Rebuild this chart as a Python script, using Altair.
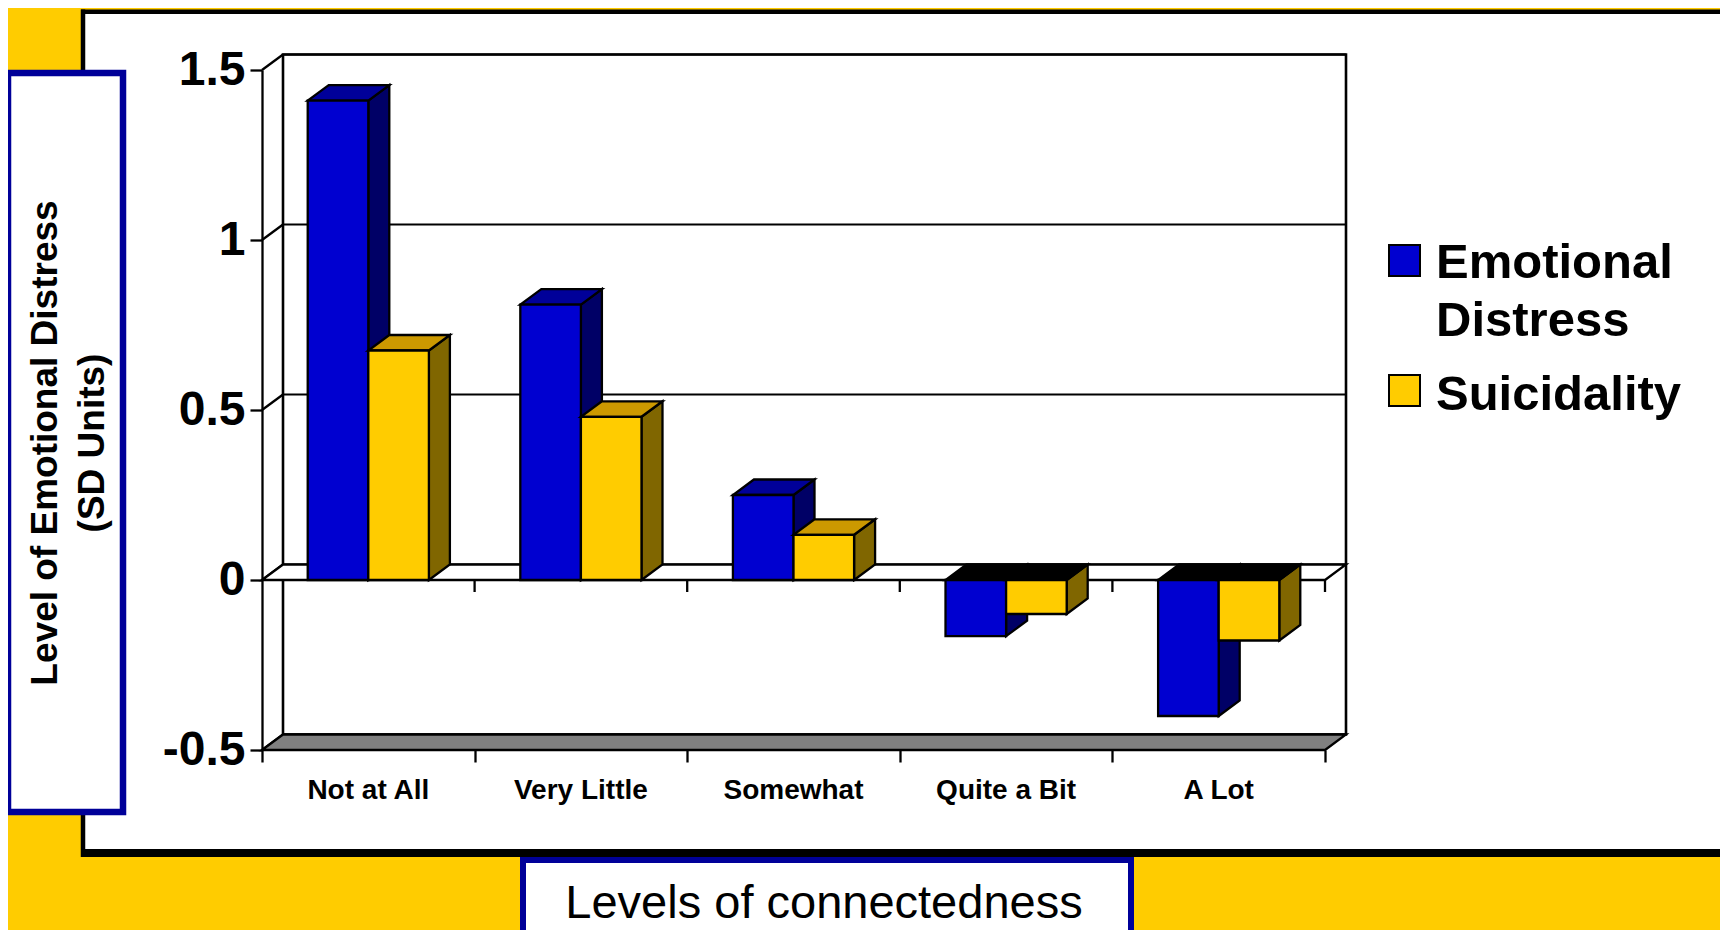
import altair as alt
import pandas as pd

# ---------------- data ----------------
categories = ["Not at All", "Very Little", "Somewhat", "Quite a Bit", "A Lot"]
emotional_distress = [1.41, 0.81, 0.25, -0.165, -0.40]
suicidality = [0.675, 0.48, 0.133, -0.10, -0.178]
series_names = ["Emotional Distress", "Suicidality"]
legend_lines = [["Emotional", "Distress"], ["Suicidality"]]
y_tick_values = [-0.5, 0, 0.5, 1, 1.5]
y_title_lines = ["Level of Emotional Distress", "(SD Units)"]
x_title = "Levels of connectedness"

# ---------------- style ----------------
FONT = "Liberation Sans"
BG = "#FFCC00"
BOX_BLUE = "#000099"
front_colors = ["#0000D0", "#FFCC00"]
top_colors = ["#000099", "#CC9900"]
side_colors = ["#000066", "#806600"]
NEG_TOP = "#000000"
FLOOR = "#808080"

W, H = 1063, 680
N = len(categories)
Y_MIN, Y_MAX = y_tick_values[0], y_tick_values[-1]
PX_X = W / N
PX_Y = H / (Y_MAX - Y_MIN)
DX = 21 / PX_X
DY = 15.5 / PX_Y
BAR_START = 0.215
BAR_W = 0.285
TICK_PX = 12
LW = 2.3

xs = alt.Scale(domain=[0, N], nice=False, zero=False)
ys = alt.Scale(domain=[Y_MIN, Y_MAX], nice=False, zero=False)
X_AX = alt.Axis(values=list(range(N + 1)), labels=False, domain=False, grid=False,
                ticks=True, tickSize=TICK_PX, tickColor="black", tickWidth=LW,
                title=None, zindex=1)
Y_AX = alt.Axis(values=y_tick_values, grid=False, domain=True, domainColor="black",
                domainWidth=LW, tickColor="black", tickWidth=LW, tickSize=TICK_PX,
                labelFont=FONT, labelFontWeight="bold", labelFontSize=48,
                labelColor="black", labelPadding=5, labelFlush=False,
                labelOverlap=False, labelExpr="toString(datum.value)",
                title=None, zindex=1)


def X(f="x"):
    return alt.X(f"{f}:Q", scale=xs, axis=X_AX, stack=False)


def Y(f="y"):
    return alt.Y(f"{f}:Q", scale=ys, axis=Y_AX, stack=False)


decor = pd.DataFrame([{"k": 0}])
layers = []

# outer white panel with black border
layers.append(alt.Chart(decor).mark_rect(fill="white").encode(
    x=alt.value(-179), x2=alt.value(1486), y=alt.value(-58.3), y2=alt.value(783)))
layers.append(alt.Chart(decor).mark_rule(color="black", strokeWidth=4.5).encode(
    x=alt.value(-179), y=alt.value(-60.5), y2=alt.value(787)))
layers.append(alt.Chart(decor).mark_rule(color="black", strokeWidth=4.5).encode(
    x=alt.value(-181), x2=alt.value(1486), y=alt.value(-58.3)))
layers.append(alt.Chart(decor).mark_rule(color="black", strokeWidth=8).encode(
    x=alt.value(-181), x2=alt.value(1486), y=alt.value(783)))

# title boxes
layers.append(alt.Chart(decor).mark_rect(fill="white", stroke=BOX_BLUE, strokeWidth=6.5).encode(
    x=alt.value(-254), x2=alt.value(-139), y=alt.value(3), y2=alt.value(742)))
layers.append(alt.Chart(decor).mark_rect(fill="white", stroke=BOX_BLUE, strokeWidth=6).encode(
    x=alt.value(261), x2=alt.value(869), y=alt.value(790), y2=alt.value(900)))

for line, xpos in zip(y_title_lines, [-216, -169]):
    layers.append(alt.Chart(decor).mark_text(
        angle=270, font=FONT, fontWeight="bold", fontSize=37, color="black",
        align="center", baseline="middle").encode(
        x=alt.value(xpos), y=alt.value(373), text=alt.value(line)))

layers.append(alt.Chart(decor).mark_text(
    font=FONT, fontSize=47, color="black", align="center", baseline="alphabetic").encode(
    x=alt.value(562), y=alt.value(848), text=alt.value(x_title)))

# back wall
wall = pd.DataFrame([{"x": DX, "x2": N + DX, "y": Y_MIN + DY, "y2": Y_MAX + DY}])
layers.append(alt.Chart(wall).mark_rect(fill="white", stroke="black", strokeWidth=2.6).encode(
    x=X(), x2="x2:Q", y=Y(), y2="y2:Q"))

grid = pd.DataFrame([{"x": DX, "x2": N + DX, "y": v + DY} for v in y_tick_values])
layers.append(alt.Chart(grid).mark_rule(color="black", strokeWidth=2).encode(
    x=X(), x2="x2:Q", y=Y()))

diag = pd.DataFrame([{"x": 0, "x2": DX, "y": v, "y2": v + DY} for v in y_tick_values])
layers.append(alt.Chart(diag).mark_rule(color="black", strokeWidth=LW).encode(
    x=X(), x2="x2:Q", y=Y(), y2="y2:Q"))

# floor
floor = pd.DataFrame([{"y": Y_MIN, "x": 0, "x2": N},
                      {"y": Y_MIN + DY, "x": DX, "x2": N + DX}])
layers.append(alt.Chart(floor).mark_area(orient="horizontal", fill=FLOOR, stroke="black",
                                         strokeWidth=LW).encode(
    y=Y(), x=X(), x2="x2:Q"))

# zero plane
zero = pd.DataFrame([{"y": 0, "x": 0, "x2": N},
                     {"y": DY, "x": DX, "x2": N + DX}])
layers.append(alt.Chart(zero).mark_area(orient="horizontal", fill="white", stroke="black",
                                        strokeWidth=LW).encode(
    y=Y(), x=X(), x2="x2:Q"))

zticks = pd.DataFrame([{"x": i, "y": 0, "y2": -TICK_PX / PX_Y} for i in range(1, N + 1)])
layers.append(alt.Chart(zticks).mark_rule(color="black", strokeWidth=LW).encode(
    x=X(), y=Y(), y2="y2:Q"))

# bars
series_values = [emotional_distress, suicidality]
for s, vals in enumerate(series_values):
    front_rows, top_rows, side_rows = [], [], []
    for i, v in enumerate(vals):
        x0 = i + BAR_START + s * BAR_W
        x1 = x0 + BAR_W
        top, bot = max(v, 0), min(v, 0)
        bid = f"{s}-{i}"
        front_rows.append(dict(series=series_names[s], cat=categories[i], bar=bid,
                               x=x0, x2=x1, y=bot, y2=top, fill=front_colors[s]))
        tcol = top_colors[s] if v > 0 else NEG_TOP
        top_rows += [dict(bar=bid, y=top, x=x0, x2=x1, fill=tcol),
                     dict(bar=bid, y=top + DY, x=x0 + DX, x2=x1 + DX, fill=tcol)]
        side_rows += [dict(bar=bid, x=x1, y=bot, y2=top, fill=side_colors[s]),
                      dict(bar=bid, x=x1 + DX, y=bot + DY, y2=top + DY, fill=side_colors[s])]
    layers.append(alt.Chart(pd.DataFrame(side_rows)).mark_area(
        orient="vertical", stroke="black", strokeWidth=LW, opacity=1).encode(
        x=X(), y=Y(), y2="y2:Q", detail="bar:N",
        color=alt.Color("fill:N", scale=None)))
    layers.append(alt.Chart(pd.DataFrame(top_rows)).mark_area(
        orient="horizontal", stroke="black", strokeWidth=LW, opacity=1).encode(
        y=Y(), x=X(), x2="x2:Q", detail="bar:N",
        color=alt.Color("fill:N", scale=None)))
    layers.append(alt.Chart(pd.DataFrame(front_rows)).mark_rect(
        stroke="black", strokeWidth=LW, opacity=1).encode(
        x=X(), x2="x2:Q", y=Y(), y2="y2:Q",
        color=alt.Color("fill:N", scale=None)))

# category labels
cat_df = pd.DataFrame([{"x": i + 0.5, "y": Y_MIN, "label": c} for i, c in enumerate(categories)])
layers.append(alt.Chart(cat_df).mark_text(
    font=FONT, fontWeight="bold", fontSize=28, color="black", dy=41,
    align="center", baseline="middle").encode(x=X(), y=Y(), text="label:N"))

# legend
sq_tops = [175, 305]
text_baselines = [[208, 266], [340]]
for s in range(len(series_names)):
    layers.append(alt.Chart(decor).mark_rect(
        fill=front_colors[s], stroke="black", strokeWidth=2).encode(
        x=alt.value(1127), x2=alt.value(1158),
        y=alt.value(sq_tops[s]), y2=alt.value(sq_tops[s] + 31)))
    for line, yb in zip(legend_lines[s], text_baselines[s]):
        layers.append(alt.Chart(decor).mark_text(
            font=FONT, fontWeight="bold", fontSize=49, color="black",
            align="left", baseline="alphabetic").encode(
            x=alt.value(1174), y=alt.value(yb), text=alt.value(line)))

chart = alt.layer(*layers).properties(
    width=W, height=H, background=BG,
    padding={"left": 254, "top": 62, "right": 395, "bottom": 180},
    autosize=alt.AutoSizeParams(type="none"),
).configure_view(strokeWidth=0)

chart.save("out.html", embed_options={"renderer": "svg", "actions": False})
